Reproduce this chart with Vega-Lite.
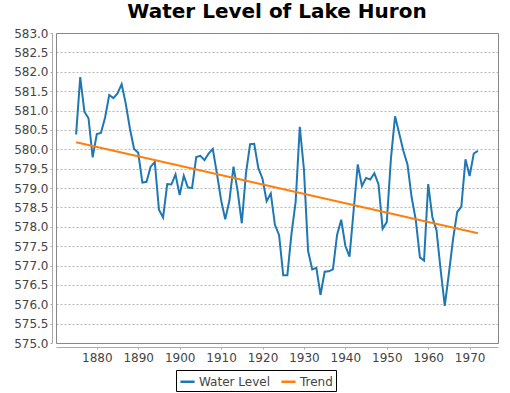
{
  "$schema": "https://vega.github.io/schema/vega-lite/v6.json",
  "width": 442,
  "height": 310,
  "autosize": {"type": "none"},
  "padding": {"left": 56, "top": 33, "right": 12, "bottom": 50},
  "title": {"text": "Water Level of Lake Huron", "font": "DejaVu Sans", "fontSize": 20, "fontWeight": "bold", "color": "#000", "anchor": "middle", "offset": 5},
  "config": {
    "view": {"stroke": "#888", "strokeWidth": 1},
    "font": "DejaVu Sans",
    "axis": {"labelFont": "DejaVu Sans", "labelFontSize": 12, "labelColor": "#444", "domainColor": "#aaa", "tickColor": "#aaa", "grid": false}
  },
  "datasets": {
    "lake": [
      {"year":1875,"level":580.38,"series":"Water Level"},{"year":1876,"level":581.86,"series":"Water Level"},{"year":1877,"level":580.97,"series":"Water Level"},{"year":1878,"level":580.80,"series":"Water Level"},{"year":1879,"level":579.79,"series":"Water Level"},
      {"year":1880,"level":580.39,"series":"Water Level"},{"year":1881,"level":580.42,"series":"Water Level"},{"year":1882,"level":580.82,"series":"Water Level"},{"year":1883,"level":581.40,"series":"Water Level"},{"year":1884,"level":581.32,"series":"Water Level"},
      {"year":1885,"level":581.44,"series":"Water Level"},{"year":1886,"level":581.68,"series":"Water Level"},{"year":1887,"level":581.17,"series":"Water Level"},{"year":1888,"level":580.53,"series":"Water Level"},{"year":1889,"level":580.01,"series":"Water Level"},
      {"year":1890,"level":579.91,"series":"Water Level"},{"year":1891,"level":579.14,"series":"Water Level"},{"year":1892,"level":579.16,"series":"Water Level"},{"year":1893,"level":579.55,"series":"Water Level"},{"year":1894,"level":579.67,"series":"Water Level"},
      {"year":1895,"level":578.44,"series":"Water Level"},{"year":1896,"level":578.24,"series":"Water Level"},{"year":1897,"level":579.10,"series":"Water Level"},{"year":1898,"level":579.09,"series":"Water Level"},{"year":1899,"level":579.35,"series":"Water Level"},
      {"year":1900,"level":578.82,"series":"Water Level"},{"year":1901,"level":579.32,"series":"Water Level"},{"year":1902,"level":579.01,"series":"Water Level"},{"year":1903,"level":579.00,"series":"Water Level"},{"year":1904,"level":579.80,"series":"Water Level"},
      {"year":1905,"level":579.83,"series":"Water Level"},{"year":1906,"level":579.72,"series":"Water Level"},{"year":1907,"level":579.89,"series":"Water Level"},{"year":1908,"level":580.01,"series":"Water Level"},{"year":1909,"level":579.37,"series":"Water Level"},
      {"year":1910,"level":578.69,"series":"Water Level"},{"year":1911,"level":578.19,"series":"Water Level"},{"year":1912,"level":578.67,"series":"Water Level"},{"year":1913,"level":579.55,"series":"Water Level"},{"year":1914,"level":578.92,"series":"Water Level"},
      {"year":1915,"level":578.09,"series":"Water Level"},{"year":1916,"level":579.37,"series":"Water Level"},{"year":1917,"level":580.13,"series":"Water Level"},{"year":1918,"level":580.14,"series":"Water Level"},{"year":1919,"level":579.51,"series":"Water Level"},
      {"year":1920,"level":579.24,"series":"Water Level"},{"year":1921,"level":578.66,"series":"Water Level"},{"year":1922,"level":578.86,"series":"Water Level"},{"year":1923,"level":578.05,"series":"Water Level"},{"year":1924,"level":577.79,"series":"Water Level"},
      {"year":1925,"level":576.75,"series":"Water Level"},{"year":1926,"level":576.75,"series":"Water Level"},{"year":1927,"level":577.82,"series":"Water Level"},{"year":1928,"level":578.64,"series":"Water Level"},{"year":1929,"level":580.58,"series":"Water Level"},
      {"year":1930,"level":579.48,"series":"Water Level"},{"year":1931,"level":577.38,"series":"Water Level"},{"year":1932,"level":576.90,"series":"Water Level"},{"year":1933,"level":576.94,"series":"Water Level"},{"year":1934,"level":576.24,"series":"Water Level"},
      {"year":1935,"level":576.84,"series":"Water Level"},{"year":1936,"level":576.85,"series":"Water Level"},{"year":1937,"level":576.90,"series":"Water Level"},{"year":1938,"level":577.79,"series":"Water Level"},{"year":1939,"level":578.18,"series":"Water Level"},
      {"year":1940,"level":577.51,"series":"Water Level"},{"year":1941,"level":577.23,"series":"Water Level"},{"year":1942,"level":578.42,"series":"Water Level"},{"year":1943,"level":579.61,"series":"Water Level"},{"year":1944,"level":579.05,"series":"Water Level"},
      {"year":1945,"level":579.26,"series":"Water Level"},{"year":1946,"level":579.22,"series":"Water Level"},{"year":1947,"level":579.38,"series":"Water Level"},{"year":1948,"level":579.10,"series":"Water Level"},{"year":1949,"level":577.95,"series":"Water Level"},
      {"year":1950,"level":578.12,"series":"Water Level"},{"year":1951,"level":579.75,"series":"Water Level"},{"year":1952,"level":580.85,"series":"Water Level"},{"year":1953,"level":580.41,"series":"Water Level"},{"year":1954,"level":579.96,"series":"Water Level"},
      {"year":1955,"level":579.61,"series":"Water Level"},{"year":1956,"level":578.76,"series":"Water Level"},{"year":1957,"level":578.18,"series":"Water Level"},{"year":1958,"level":577.21,"series":"Water Level"},{"year":1959,"level":577.13,"series":"Water Level"},
      {"year":1960,"level":579.10,"series":"Water Level"},{"year":1961,"level":578.25,"series":"Water Level"},{"year":1962,"level":577.91,"series":"Water Level"},{"year":1963,"level":576.89,"series":"Water Level"},{"year":1964,"level":575.96,"series":"Water Level"},
      {"year":1965,"level":576.80,"series":"Water Level"},{"year":1966,"level":577.68,"series":"Water Level"},{"year":1967,"level":578.38,"series":"Water Level"},{"year":1968,"level":578.52,"series":"Water Level"},{"year":1969,"level":579.74,"series":"Water Level"},
      {"year":1970,"level":579.31,"series":"Water Level"},{"year":1971,"level":579.89,"series":"Water Level"},{"year":1972,"level":579.96,"series":"Water Level"},
      {"year":1875,"level":580.18,"series":"Trend"},{"year":1972,"level":577.83,"series":"Trend"}
    ]
  },
  "data": {"name": "lake"},
  "mark": {"type": "line", "strokeWidth": 2, "clip": true},
  "encoding": {
    "x": {"field": "year", "type": "quantitative", "scale": {"domain": [1870.15, 1976.85], "nice": false, "zero": false},
          "axis": {"title": null, "values": [1880,1890,1900,1910,1920,1930,1940,1950,1960,1970], "format": "d", "offset": 4, "tickSize": 2, "labelPadding": 3}},
    "y": {"field": "level", "type": "quantitative", "scale": {"domain": [575, 583], "nice": false, "zero": false},
          "axis": {"title": null, "values": [575,575.5,576,576.5,577,577.5,578,578.5,579,579.5,580,580.5,581,581.5,582,582.5,583], "format": ".1f", "offset": 4, "tickSize": 2, "labelPadding": 2, "labelOverlap": false, "grid": true, "gridColor": "#888", "gridDash": [2, 2], "gridWidth": 0.6}},
    "color": {"field": "series", "type": "nominal",
              "scale": {"domain": ["Water Level", "Trend"], "range": ["#1f77b4", "#ff7f0e"]},
              "legend": {"title": null, "orient": "none", "legendX": 120, "legendY": 337, "direction": "horizontal", "symbolType": "stroke", "symbolStrokeWidth": 2.5, "symbolSize": 200,
                         "labelFontSize": 12, "labelColor": "#444", "strokeColor": "#000", "padding": 3, "columnPadding": 6, "labelOffset": 3}}
  }
}
